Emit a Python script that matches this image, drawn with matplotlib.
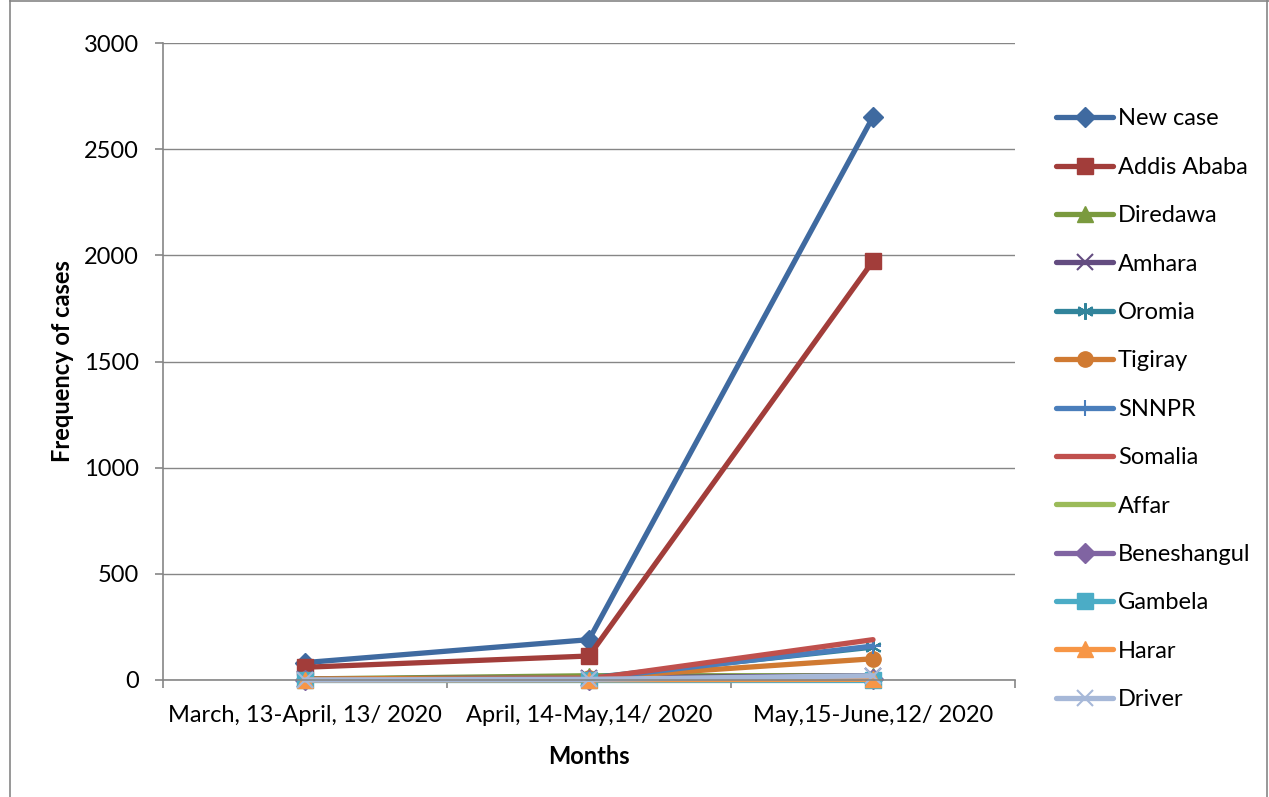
import matplotlib.pyplot as plt
from matplotlib.lines import Line2D

# --- data ---
periods = ['March, 13-April, 13/ 2020', 'April, 14-May,14/ 2020', 'May,15-June,12/ 2020']

new_case = [82, 190, 2652]
addis_ababa = [60, 113, 1973]
diredawa = [5, 20, 20]
amhara = [5, 10, 20]
oromia = [5, 10, 155]
tigiray = [5, 10, 100]
snnpr = [0, 5, 160]
somalia = [0, 5, 190]
affar = [0, 2, 5]
beneshangul = [0, 0, 5]
gambela = [0, 0, 0]
harar = [0, 1, 3]
driver = [0, 3, 20]

series = [
    ('New case', new_case, '#3F6AA0', 'D'),
    ('Addis Ababa', addis_ababa, '#A23D3A', 's'),
    ('Diredawa', diredawa, '#7A9A3E', '^'),
    ('Amhara', amhara, '#634C80', 'x'),
    ('Oromia', oromia, '#31849B', (6, 2, 0)),
    ('Tigiray', tigiray, '#D07A32', 'o'),
    ('SNNPR', snnpr, '#4A7EBB', '+'),
    ('Somalia', somalia, '#C0504D', None),
    ('Affar', affar, '#9BBB59', None),
    ('Beneshangul', beneshangul, '#8064A2', 'D'),
    ('Gambela', gambela, '#4BACC6', 's'),
    ('Harar', harar, '#F79646', '^'),
    ('Driver', driver, '#A6B8D8', 'x'),
]

plt.rcParams['font.family'] = ['Lato', 'DejaVu Sans']
FS = 17

fig = plt.figure(figsize=(12.69, 7.97), dpi=100)
ax = fig.add_axes([163 / 1269, 1 - 680 / 797, 852 / 1269, 637 / 797])

x = list(range(len(periods)))
handles = []
for name, vals, color, marker in series:
    ms = 11
    mew = 1.0
    if marker in ('x', '+', (6, 2, 0)):
        ms = 12
        mew = 1.5
    if marker == 'D':
        ms = 10
    ax.plot(x, vals, color=color, lw=3.8, marker=marker, markersize=ms,
            markeredgecolor=color, markerfacecolor=color, markeredgewidth=mew,
            solid_capstyle='round', clip_on=False)
    handles.append(Line2D([0], [0], color=color, lw=3.8, marker=marker,
                          markersize=ms, markeredgecolor=color,
                          markerfacecolor=color, markeredgewidth=mew,
                          solid_capstyle='round'))

ax.set_xlim(-0.5, 2.5)
ax.set_ylim(0, 3000)
ax.set_yticks(range(0, 3001, 500))
ax.set_xticks(x)
ax.set_xticklabels(periods, fontsize=FS)
ax.tick_params(axis='x', length=0, pad=18)
ax.set_xticks([-0.5, 0.5, 1.5, 2.5], minor=True)
ax.tick_params(axis='x', which='minor', length=6, color='#868686', width=1.2,
               direction='out')
ax.tick_params(axis='y', labelsize=FS, length=5.5, color='#868686', width=1.2,
               direction='out', pad=12)

ax.grid(axis='y', color='#868686', lw=1.0)
ax.set_axisbelow(True)
for side in ('top', 'right'):
    ax.spines[side].set_visible(False)
for side in ('left', 'bottom'):
    ax.spines[side].set_color('#868686')
    ax.spines[side].set_linewidth(1.2)

ax.set_xlabel('Months', fontsize=FS, fontweight='bold', labelpad=14)
ax.set_ylabel('Frequency of cases', fontsize=FS, fontweight='bold', labelpad=7)

fig.legend(handles, [s[0] for s in series], loc='upper left',
           bbox_to_anchor=(1047 / 1269, 1 - 99 / 797), frameon=False,
           fontsize=FS, labelspacing=1.16, handlelength=2.4,
           handletextpad=0.2, borderaxespad=0)

# outer chart border
fig.add_artist(Line2D([10 / 1269, 10 / 1269], [0, 1], color='#868686', lw=1.2))
fig.add_artist(Line2D([10 / 1269, 1], [1 - 1 / 797, 1 - 1 / 797], color='#868686', lw=1.2))
fig.add_artist(Line2D([1 - 2 / 1269, 1 - 2 / 1269], [0, 1], color='#868686', lw=1.2))

fig.savefig('out.png', dpi=100)
